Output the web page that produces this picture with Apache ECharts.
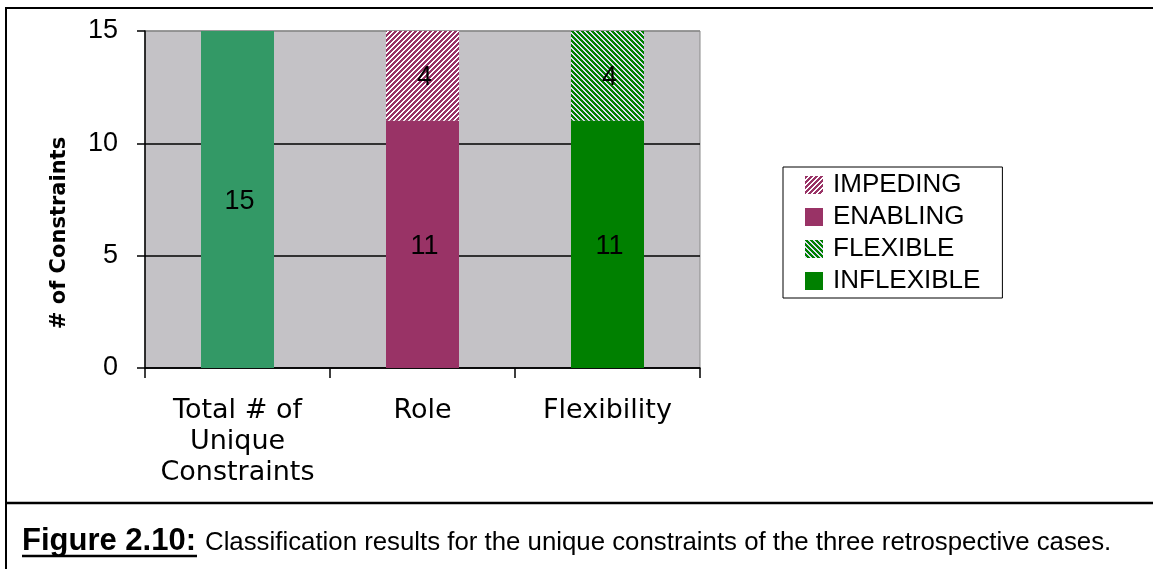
<!DOCTYPE html>
<html>
<head>
<meta charset="utf-8">
<script src="https://cdn.jsdelivr.net/npm/echarts@6/dist/echarts.min.js"></script>
<style>
html,body{margin:0;padding:0;background:#fff;}
#chart{width:1153px;height:569px;}
</style>
</head>
<body>
<div id="chart"></div>
<script>
// ---- data ----
const categories = ['Total # of\nUnique\nConstraints', 'Role', 'Flexibility'];
const totalValues = [15, null, null];
const enablingValues = [null, 11, null];
const impedingValues = [null, 4, null];
const inflexibleValues = [null, null, 11];
const flexibleValues = [null, null, 4];
const yTicks = { min: 0, max: 15, interval: 5 };
const legendNames = ['IMPEDING', 'ENABLING', 'FLEXIBLE', 'INFLEXIBLE'];
const yAxisTitle = '# of Constraints';
const captionBold = 'Figure 2.10:';
const captionText = 'Classification results for the unique constraints of the three retrospective cases.';

// ---- hatch patterns ----
function hatch(fg, bg, dir) {
  const n = 5;
  const c = document.createElement('canvas');
  c.width = n; c.height = n;
  const ctx = c.getContext('2d');
  ctx.fillStyle = bg; ctx.fillRect(0, 0, n, n);
  ctx.fillStyle = fg;
  for (let x = 0; x < n; x++) {
    for (let y = 0; y < n; y++) {
      const k = dir > 0 ? (x + y) % n : ((x - y) % n + n) % n;
      if (k < 3) ctx.fillRect(x, y, 1, 1);
    }
  }
  return { image: c, repeat: 'repeat' };
}
const impedingPattern = hatch('#993366', '#ffffff', 1);
const flexiblePattern = hatch('#008000', '#dcdcf2', -1);

const chart = echarts.init(document.getElementById('chart'), null, { renderer: 'canvas' });

const labelStyle = {
  show: true, position: 'inside', color: '#000',
  fontFamily: 'Liberation Sans', fontSize: 27, offset: [2, 2],
  formatter: p => p.value
};
const barW = 73;

chart.setOption({
  backgroundColor: '#ffffff',
  animation: false,
  grid: {
    left: 145, right: 453, top: 31, bottom: 201,
    show: true, backgroundColor: '#c4c2c6', borderColor: '#8a8a8a', borderWidth: 1
  },
  legend: {
    data: legendNames,
    orient: 'vertical',
    left: 783, top: 167,
    padding: [5, 22, 4, 22],
    itemGap: 6,
    itemWidth: 18, itemHeight: 18,
    borderColor: '#000', borderWidth: 1,
    backgroundColor: '#fff',
    icon: 'rect',
    selectedMode: false,
    textStyle: { fontFamily: 'Liberation Sans', fontSize: 26, color: '#000', lineHeight: 26, padding: [0, 0, 0, 5] }
  },
  xAxis: {
    type: 'category',
    data: categories,
    axisLine: { lineStyle: { color: '#000', width: 1.5 } },
    axisTick: { show: true, length: 10, lineStyle: { color: '#000', width: 1.5 } },
    axisLabel: {
      interval: 0, margin: 27, color: '#000',
      fontFamily: 'DejaVu Sans', fontSize: 27, lineHeight: 31
    },
    splitLine: { show: false }
  },
  yAxis: {
    type: 'value',
    min: yTicks.min, max: yTicks.max, interval: yTicks.interval,
    axisLine: { show: true, lineStyle: { color: '#000', width: 1.5 } },
    axisTick: { show: true, length: 8, lineStyle: { color: '#000', width: 1.5 } },
    axisLabel: { margin: 27, color: '#000', fontFamily: 'Liberation Sans', fontSize: 27 },
    splitLine: { show: true, lineStyle: { color: ['#000', '#000', '#000', '#8a8a8a'], width: 1.5 } }
  },
  graphic: [
    { type: 'rect', silent: true, z: -1, shape: { x: 6, y: 8, width: 1160, height: 570 },
      style: { fill: 'none', stroke: '#000', lineWidth: 2 } },
    { type: 'line', silent: true, shape: { x1: 6, y1: 503, x2: 1153, y2: 503 },
      style: { stroke: '#000', lineWidth: 2.5 } },
    { type: 'text', silent: true, x: 60, y: 233, rotation: Math.PI / 2,
      style: { text: yAxisTitle, fill: '#000', fontFamily: 'DejaVu Sans', fontWeight: 'bold', fontSize: 21,
        align: 'center', verticalAlign: 'middle' } },
    { type: 'text', silent: true, x: 22, y: 541,
      style: { text: captionBold, fill: '#000', fontFamily: 'Liberation Sans', fontWeight: 'bold', fontSize: 31,
        align: 'left', verticalAlign: 'middle' } },
    { type: 'line', silent: true, shape: { x1: 22, y1: 556, x2: 197, y2: 556 },
      style: { stroke: '#000', lineWidth: 2.5 } },
    { type: 'text', silent: true, x: 205, y: 543,
      style: { text: captionText, fill: '#000', fontFamily: 'Liberation Sans', fontSize: 25.8,
        align: 'left', verticalAlign: 'middle' } }
  ],
  series: [
    { name: 'TOTAL', type: 'bar', stack: 's', data: totalValues, barWidth: barW,
      itemStyle: { color: '#339966' }, label: labelStyle },
    { name: 'ENABLING', type: 'bar', stack: 's', data: enablingValues, barWidth: barW,
      itemStyle: { color: '#993366' }, label: labelStyle },
    { name: 'IMPEDING', type: 'bar', stack: 's', data: impedingValues, barWidth: barW,
      itemStyle: { color: impedingPattern }, label: labelStyle },
    { name: 'INFLEXIBLE', type: 'bar', stack: 's', data: inflexibleValues, barWidth: barW,
      itemStyle: { color: '#008000' }, label: labelStyle },
    { name: 'FLEXIBLE', type: 'bar', stack: 's', data: flexibleValues, barWidth: barW,
      itemStyle: { color: flexiblePattern }, label: labelStyle }
  ]
});
</script>
</body>
</html>
